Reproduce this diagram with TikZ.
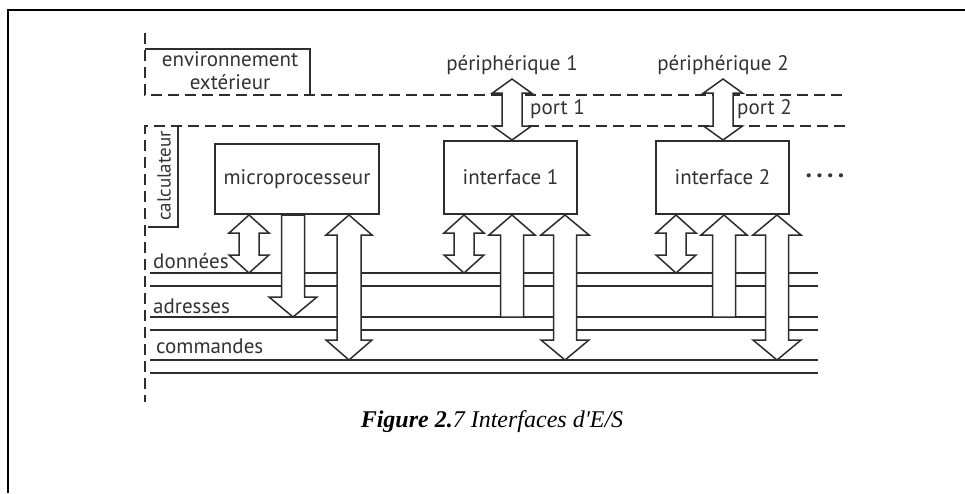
\documentclass[tikz,border=0pt]{standalone}
\usepackage{fontspec}
\setmainfont{PT Sans}
\newfontfamily\capfont{Liberation Serif}[Ligatures=ResetAll]
\usetikzlibrary{positioning,calc}
\definecolor{diagray}{RGB}{45,45,45}
\definecolor{txtgray}{RGB}{50,50,50}

\tikzset{
  zone/.style={draw=diagray, line width=2pt, dash pattern=on 11pt off 6pt},
  bracket/.style={draw=diagray, line width=2pt},
  unit/.style={draw=diagray, line width=2pt, fill=white, inner sep=0pt},
  bus/.style={draw=diagray, line width=1.6pt},
  fatarrow/.style={draw=diagray, line width=1.5pt, fill=white, line join=miter},
  lbl/.style={inner sep=0pt, text=txtgray},
}

% double arrow: tip, other end, shaft half, head half, head length
\newcommand{\dblbus}[5]{%
  \coordinate (tipb) at (#1 |- #2);
  \draw[fatarrow] (#1) -- ++(#4,#5) -- ++(#3-#4,0)
    -- ($(tipb)+(#3,-#5)$) -- ++(#4-#3,0) -- (tipb)
    -- ++(-#4,-#5) -- ++(#4-#3,0)
    -- ($(#1)+(-#3,#5)$) -- ++(#3-#4,0) -- cycle;
}
% single arrow: tip, tail, shaft half, head half, head length, 1 up / -1 down
\newcommand{\onebus}[6]{%
  \coordinate (tailb) at (#1 |- #2);
  \draw[fatarrow] (#1) -- ++(#4,#6*#5) -- ++(#3-#4,0)
    -- ($(tailb)+(#3,0)$) -- ($(tailb)+(-#3,0)$)
    -- ($(#1)+(-#3,#6*#5)$) -- ++(#3-#4,0) -- cycle;
}

\begin{document}
\begin{tikzpicture}[x=1pt, y=-1pt, font=\fontsize{21}{23}\selectfont]
\useasboundingbox (0,0) rectangle (965,493);

% frame
\draw[black, line width=1.2pt] (8,493) -- (8,10) -- (965,10);

% --- zones ---
\draw[zone] (145,33) |- (845,95);
\draw[zone] (845,126) -| (145,402);
\draw[bracket] (145,49) -| (310,95);
\draw[bracket] (178,126) |- (148,227);
\node[lbl, align=center] (env) at (230,71) {environnement\\extérieur};
\node[lbl, rotate=90, font=\fontsize{19}{21}\selectfont] (calc) at (164,176) {calculateur};

% --- units ---
\node[unit, minimum width=164pt, minimum height=70pt, text=txtgray] (mp) at (297,179) {microprocesseur};
\node[unit, minimum width=133pt, minimum height=73pt, text=txtgray] (if1) at (510.5,177.5) {interface 1};
\node[unit, minimum width=133pt, minimum height=73pt, text=txtgray] (if2) at (722.5,177.5) {interface 2};
\node[lbl, font=\fontsize{26}{28}\selectfont] (more) at (825,176) {\textbf{.\,.\,.\,.}};

% --- peripherals and ports ---
\node[lbl, anchor=base] (per1) at (512,70) {périphérique 1};
\node[lbl, anchor=base] (per2) at (723,70) {périphérique 2};
\node[lbl, anchor=base west] (port1) at (530,114) {port 1};
\node[lbl, anchor=base west] (port2) at (737,114) {port 2};

% --- buses ---
\coordinate (dat) at (150,273);
\coordinate (adr) at (150,317);
\coordinate (cmd) at (150,360);
\foreach \b in {dat,adr,cmd}
  \draw[bus] (\b) -- ++(668,0) ++(-668,13) -- ++(668,0);
\node[lbl, anchor=base west] (datlbl) at (153,268) {données};
\node[lbl, anchor=base west] (adrlbl) at (153,313) {adresses};
\node[lbl, anchor=base west] (cmdlbl) at (156,353) {commandes};

% --- arrows ---
\coordinate (pt1) at ([yshift=-9pt]per1.base);
\coordinate (pt2) at ([yshift=-9pt]per2.base);
\dblbus{pt1}{if1.north}{10}{19.5}{14}
\dblbus{pt2}{if2.north}{10}{19.5}{14}

\coordinate (mpdat) at ([xshift=35pt]mp.south west);
\coordinate (mpadr) at ([xshift=79pt]mp.south west);
\coordinate (mpcmd) at ([xshift=135pt]mp.south west);
\coordinate (mpadrtip) at (mpadr |- adr);
\dblbus{mpdat}{dat}{10}{20}{18}
\onebus{mpadrtip}{mpadr}{11.5}{24}{20}{-1}
\dblbus{mpcmd}{cmd}{12}{23}{20}

\foreach \i in {1,2} {
  \coordinate (dat\i) at ([xshift=21pt]if\i.south west);
  \coordinate (adr\i) at ([xshift=69pt]if\i.south west);
  \coordinate (cmd\i) at ([xshift=122pt]if\i.south west);
  \dblbus{dat\i}{dat}{10}{20}{18}
  \onebus{adr\i}{adr}{11.5}{23}{20}{1}
  \dblbus{cmd\i}{cmd}{11.5}{24}{20}
}

% --- caption ---
\node[font=\capfont\fontsize{24}{28}\selectfont, text=black] (fig) at (492,422)
  {\textbf{\textit{Figure 2.}}\textit{7 Interfaces d'E/S}};

\end{tikzpicture}
\end{document}
